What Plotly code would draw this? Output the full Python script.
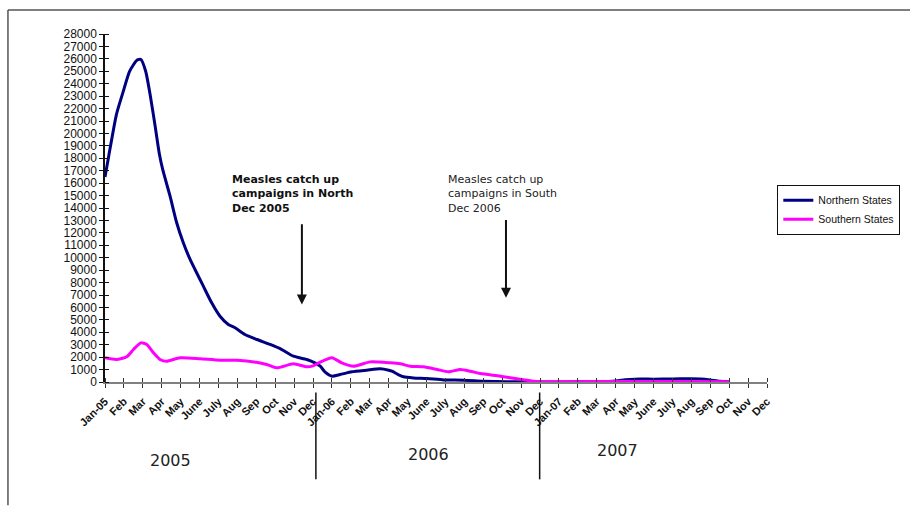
import plotly.graph_objects as go

# Month positions (0 = Jan 2005) and reported measles cases
month_labels = ["Jan-05", "Feb", "Mar", "Apr", "May", "June", "July", "Aug", "Sep", "Oct", "Nov", "Dec",
                "Jan-06", "Feb", "Mar", "Apr", "May", "June", "July", "Aug", "Sep", "Oct", "Nov", "Dec",
                "Jan-07", "Feb", "Mar", "Apr", "May", "June", "July", "Aug", "Sep", "Oct", "Nov", "Dec"]

north_t = [0, 0.2, 0.6, 0.95, 1.3, 1.7, 1.9, 2.15, 2.4, 2.65, 2.88, 3.05, 3.44, 3.79, 4.14, 4.5,
           4.76, 5.2, 5.64, 6.08, 6.52, 6.88, 7.4, 8.03, 8.73, 9.35, 9.96, 10.67, 11.1, 11.38, 11.64,
           12.0, 12.43, 13.05, 13.84, 14.55, 15.0, 15.17, 15.5, 15.78, 16.31, 17.02, 17.9, 18.96,
           20.0, 21.25, 22.5, 24.0, 26.0, 27.0, 27.5, 28.0, 29.0, 30.0, 31.0, 31.5, 32.0, 32.5, 33.0]
north_cases = [16500, 18200, 21500, 23300, 25000, 25900, 25950, 25000, 23000, 20600, 18300, 17100,
               14950, 12810, 11200, 9860, 9050, 7710, 6370, 5290, 4630, 4360, 3820, 3420, 3020,
               2610, 2080, 1810, 1540, 1270, 790, 470, 600, 820, 950, 1060, 950, 870, 600, 420, 330,
               280, 170, 150, 70, 30, 10, 10, 20, 80, 180, 230, 230, 240, 270, 250, 170, 60, 20]

south_t = [0, 0.6, 1.15, 1.5, 1.89, 2.21, 2.56, 2.91, 3.26, 3.97, 5.03, 6.08, 6.97, 8.0, 8.55, 9.08,
           9.96, 10.67, 11.0, 11.38, 12.0, 12.52, 13.14, 14.02, 15.08, 15.61, 16.14, 16.84, 17.55,
           18.16, 18.78, 19.31, 19.84, 20.9, 21.78, 22.66, 23.7, 25.0, 27.0, 29.0, 31.0, 33.0]
south_cases = [1950, 1810, 2030, 2610, 3150, 3020, 2350, 1810, 1670, 1950, 1870, 1750, 1750, 1590,
               1410, 1140, 1460, 1220, 1300, 1600, 1950, 1540, 1270, 1620, 1540, 1460, 1270, 1220,
               1010, 820, 1010, 870, 680, 470, 260, 65, 20, 30, 40, 40, 40, 20]

y_ticks = list(range(0, 28001, 1000))
years = ["2005", "2006", "2007"]
year_pos = [3.44, 17.09, 27.08]
year_y = [-0.225, -0.208, -0.197]
year_breaks = [11.15, 22.98]

fig = go.Figure()
fig.add_trace(go.Scatter(x=north_t, y=north_cases, mode="lines", name="Northern States",
                         line=dict(color="#000080", width=3, shape="spline", smoothing=0.6)))
fig.add_trace(go.Scatter(x=south_t, y=south_cases, mode="lines", name="Southern States",
                         line=dict(color="#FF00FF", width=3, shape="spline", smoothing=0.6)))

eps = 1e-6
fig.update_xaxes(range=[0, 35], tickmode="array", tickvals=list(range(36)), ticktext=month_labels,
                 tickangle=-45, ticks="outside", ticklen=4, tickcolor="#333", tickwidth=1,
                 ticklabelstandoff=3,
                 showline=True, linecolor="#808080", linewidth=1.5, showgrid=False, zeroline=False,
                 tickfont=dict(family="Liberation Sans", size=11, color="#111", weight="bold"),
                 minor=dict(ticks="inside", tickmode="array", tickvals=[i + eps for i in range(36)],
                            ticklen=4, tickcolor="#333", tickwidth=1, showgrid=False))
fig.update_yaxes(range=[0, 28000], tickmode="array", tickvals=y_ticks, tickformat="d",
                 ticks="outside", ticklen=4, tickcolor="#111", tickwidth=1,
                 showline=True, linecolor="#111", linewidth=1.5, showgrid=False, zeroline=False,
                 tickfont=dict(family="Liberation Sans", size=12, color="#111"),
                 minor=dict(ticks="inside", tickmode="array", tickvals=[v + eps * 1000 for v in y_ticks],
                            ticklen=4, tickcolor="#111", tickwidth=1, showgrid=False))

annotations = [
    dict(x=10.41, y=6235, ax=10.41, ay=12810, xref="x", yref="y", axref="x", ayref="y",
         showarrow=True, arrowhead=2, arrowsize=1, arrowwidth=2, arrowcolor="#111", text=""),
    dict(x=21.2, y=6775, ax=21.2, ay=13155, xref="x", yref="y", axref="x", ayref="y",
         showarrow=True, arrowhead=2, arrowsize=1, arrowwidth=2, arrowcolor="#111", text=""),
    dict(x=(230 - 105) / 661.7, y=(382.5 - 171) / 348.5, xref="paper", yref="paper",
         xanchor="left", yanchor="top", align="left", showarrow=False,
         text="<b>Measles catch up<br>campaigns in North<br>Dec 2005</b>",
         font=dict(family="DejaVu Sans", size=11, color="#111")),
    dict(x=(446 - 105) / 661.7, y=(382.5 - 171) / 348.5, xref="paper", yref="paper",
         xanchor="left", yanchor="top", align="left", showarrow=False,
         text="Measles catch up<br>campaigns in South<br>Dec 2006",
         font=dict(family="DejaVu Sans", size=11, color="#222")),
]
for label, xp, yp in zip(years, year_pos, year_y):
    annotations.append(dict(x=xp, y=yp, xref="x", yref="paper", showarrow=False, text=label,
                            xanchor="center", yanchor="middle",
                            font=dict(family="DejaVu Sans", size=16, color="#222")))

shapes = [
    # outer frame (top and left edges)
    dict(type="line", xref="paper", yref="paper", x0=(8 - 105) / 661.7, x1=(910 - 105) / 661.7,
         y0=(382.5 - 10) / 348.5, y1=(382.5 - 10) / 348.5, line=dict(color="#555", width=1.5)),
    dict(type="line", xref="paper", yref="paper", x0=(8 - 105) / 661.7, x1=(8 - 105) / 661.7,
         y0=(382.5 - 10) / 348.5, y1=(382.5 - 506) / 348.5, line=dict(color="#555", width=1.5)),
]
for xb in year_breaks:
    shapes.append(dict(type="line", xref="x", yref="paper", x0=xb, x1=xb,
                       y0=(382.5 - 393) / 348.5, y1=(382.5 - 480) / 348.5,
                       line=dict(color="#111", width=1.5)))

fig.update_layout(
    width=910, height=506,
    margin=dict(l=105, r=143.3, t=34, b=123.5, autoexpand=False),
    paper_bgcolor="white", plot_bgcolor="white",
    annotations=annotations, shapes=shapes,
    legend=dict(x=(777 - 105) / 661.7, y=(382.5 - 185) / 348.5, xanchor="left", yanchor="top",
                bgcolor="white", bordercolor="#111", borderwidth=1, itemwidth=30,
                font=dict(family="Liberation Sans", size=10.5, color="#111"), tracegroupgap=0),
)

fig.write_html("out.html")
